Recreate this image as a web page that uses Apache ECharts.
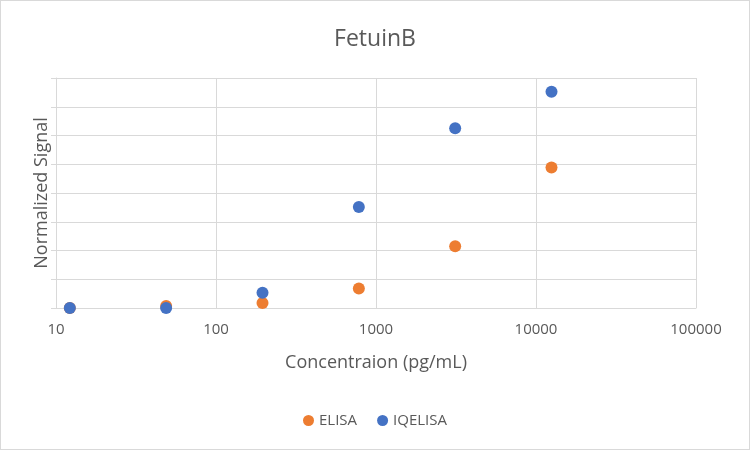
<!DOCTYPE html>
<html>
<head>
<meta charset="utf-8">
<script src="https://cdn.jsdelivr.net/npm/echarts@6/dist/echarts.min.js"></script>
<style>
  html, body { margin: 0; padding: 0; background: #fff; }
  #main { width: 750px; height: 450px; box-sizing: border-box; border: 1px solid #d9d9d9; }
</style>
</head>
<body>
<div id="main"></div>
<script>
// 浓度 (pg/mL) 与两组归一化信号
var concentrations = [12.2, 48.8, 195.3, 781.25, 3125, 12500];
var elisaValues = [0, 0.07, 0.17, 0.68, 2.15, 4.89];
var iqelisaValues = [0, 0, 0.53, 3.51, 6.25, 7.52];
var seriesNames = ['ELISA', 'IQELISA'];
var seriesColors = ['#ED7D31', '#4472C4'];

function pairs(xs, ys) {
    var out = [];
    for (var i = 0; i < xs.length; i++) {
        out.push([xs[i], ys[i]]);
    }
    return out;
}

var myChart = echarts.init(document.getElementById('main'));
var textColor = '#595959';
var gridColor = '#d9d9d9';
var font = 'Open Sans';

var option = {
    animation: false,
    color: seriesColors,
    title: {
        text: 'FetuinB',
        left: 'center',
        top: 22,
        textStyle: { color: textColor, fontSize: 23, fontWeight: 'normal', fontFamily: font }
    },
    legend: {
        data: seriesNames,
        bottom: 16,
        left: 'center',
        icon: 'circle',
        itemWidth: 11,
        itemHeight: 11,
        itemGap: 20,
        textStyle: { color: textColor, fontSize: 15, fontFamily: font }
    },
    grid: { left: 55, right: 53, top: 77, bottom: 141, containLabel: false },
    xAxis: {
        type: 'log',
        logBase: 10,
        min: 10,
        max: 100000,
        name: 'Concentraion (pg/mL)',
        nameLocation: 'middle',
        nameGap: 46,
        nameTextStyle: { color: textColor, fontSize: 18, fontFamily: font },
        axisLine: { show: true, lineStyle: { color: gridColor } },
        axisTick: { show: false },
        axisLabel: {
            color: textColor, fontSize: 15, fontFamily: font, margin: 14,
            formatter: function (v) { return String(Math.round(v)); }
        },
        splitLine: { show: true, lineStyle: { color: gridColor } }
    },
    yAxis: {
        type: 'value',
        min: 0,
        max: 8,
        interval: 1,
        name: 'Normalized Signal',
        nameLocation: 'middle',
        nameGap: 5,
        nameTextStyle: { color: textColor, fontSize: 18, fontFamily: font },
        axisLine: { show: true, lineStyle: { color: gridColor } },
        axisTick: { show: true, length: 5, lineStyle: { color: gridColor } },
        axisLabel: { show: false },
        splitLine: { show: true, lineStyle: { color: gridColor } }
    },
    series: [
        {
            name: seriesNames[0],
            type: 'scatter',
            symbolSize: 12,
            itemStyle: { opacity: 1 },
            data: pairs(concentrations, elisaValues)
        },
        {
            name: seriesNames[1],
            type: 'scatter',
            symbolSize: 12,
            itemStyle: { opacity: 1 },
            data: pairs(concentrations, iqelisaValues)
        }
    ]
};

myChart.setOption(option);
</script>
</body>
</html>
